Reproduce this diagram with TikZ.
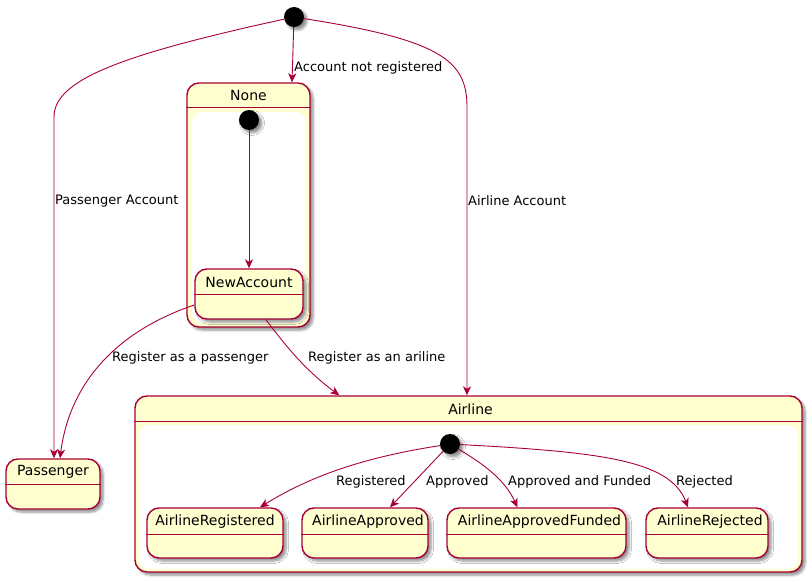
\documentclass[tikz,border=0pt]{standalone}
\usepackage{fontspec}
\setmainfont{DejaVu Sans}
\usetikzlibrary{arrows.meta,shadows.blur,calc}
\definecolor{stfill}{HTML}{FEFECE}
\definecolor{stline}{HTML}{A80036}
\tikzset{
  shad/.style={blur shadow={shadow xshift=3pt, shadow yshift=-3pt, shadow blur radius=2.5pt, shadow blur steps=6, shadow opacity=45}},
  stbox/.style={draw=stline, line width=1.4pt, fill=stfill, rounded corners=12pt, inner sep=0pt, shad},
  innerwhite/.style={fill=white, draw=none, rounded corners=10pt},
  sepline/.style={draw=stline, line width=1.2pt},
  stname/.style={font=\fontsize{14}{16}\selectfont, inner sep=0pt, anchor=center},
  lbl/.style={font=\fontsize{13}{15}\selectfont, inner sep=0pt, anchor=west},
  initst/.style={circle, fill=black, minimum size=20pt, inner sep=0pt, shad},
  trans/.style={draw=stline, line width=0.9pt, -{Stealth[length=9pt,width=8pt,inset=2.5pt]}},
}
\begin{document}
\begin{tikzpicture}[x=1pt,y=-1pt]
\useasboundingbox (0,0) rectangle (812,583);

% ---------- composite None ----------
\node[stbox, minimum width=123, minimum height=244] (none) at (248.5,205) {};
\fill[innerwhite] (192,112) rectangle (306,323);
\draw[sepline] ($(none.north west)+(0,25)$) -- ($(none.north east)+(0,25)$);
\node[stname] (nonename) at ($(none.north)+(0,13)$) {None};

% ---------- composite Airline ----------
\node[stbox, minimum width=667, minimum height=176] (airline) at (468.5,484) {};
\fill[innerwhite] (139,425) rectangle (798,569);
\draw[sepline] ($(airline.north west)+(0,26)$) -- ($(airline.north east)+(0,26)$);
\node[stname] (airlinename) at ($(airline.north)+(2,14)$) {Airline};

% ---------- simple states ----------
\node[stbox, minimum width=108, minimum height=50] (newacc) at (249,294) {};
\draw[sepline] ($(newacc.north west)+(0,26)$) -- ($(newacc.north east)+(0,26)$);
\node[stname] (newaccname) at ($(newacc.north)+(0,14)$) {NewAccount};

\node[stbox, minimum width=94, minimum height=50] (passenger) at (53,484) {};
\draw[sepline] ($(passenger.north west)+(0,26)$) -- ($(passenger.north east)+(0,26)$);
\node[stname] (passengername) at ($(passenger.north)+(0,14)$) {Passenger};

\node[stbox, minimum width=136, minimum height=50] (areg) at (215,533) {};
\draw[sepline] ($(areg.north west)+(0,27)$) -- ($(areg.north east)+(0,27)$);
\node[stname] (aregname) at ($(areg.north)+(0,14)$) {AirlineRegistered};

\node[stbox, minimum width=126, minimum height=50] (aapp) at (365,533) {};
\draw[sepline] ($(aapp.north west)+(0,27)$) -- ($(aapp.north east)+(0,27)$);
\node[stname] (aappname) at ($(aapp.north)+(3,14)$) {AirlineApproved};

\node[stbox, minimum width=179, minimum height=50] (afund) at (536.5,533) {};
\draw[sepline] ($(afund.north west)+(0,27)$) -- ($(afund.north east)+(0,27)$);
\node[stname] (afundname) at ($(afund.north)+(3,14)$) {AirlineApprovedFunded};

\node[stbox, minimum width=122, minimum height=50] (arej) at (707,533) {};
\draw[sepline] ($(arej.north west)+(0,27)$) -- ($(arej.north east)+(0,27)$);
\node[stname] (arejname) at ($(arej.north)+(3,14)$) {AirlineRejected};

% ---------- initial states ----------
\node[initst] (init0) at (294,17) {};
\node[initst] (init1) at (249,120) {};
\node[initst] (init2) at (450,444) {};

% ---------- transitions ----------
\coordinate (pbend) at (54,117);
\coordinate (abend) at (467,107);

\draw[trans] (init0) .. controls (120,55) and (54,80) .. (pbend) -- (pbend |- passenger.north);
\draw[trans] (init0) -- ($(none.north)+(43.5,0)$);
\draw[trans] (init0) .. controls (440,40) and (467,60) .. (abend) -- (abend |- airline.north);
\draw[trans] (init1) -- (newacc);
\draw[trans] ($(newacc.west)+(0,11)$) .. controls (120,330) and (70,380) .. ($(passenger.north)+(7,0)$);
\draw[trans] ($(newacc.south)+(17,0)$) .. controls (285,345) and (305,370) .. ($(airline.north west)+(205,0)$);
\draw[trans] (init2) .. controls (380,455) and (320,470) .. ($(areg.north)+(45,0)$);
\draw[trans] (init2) -- ($(aapp.north)+(25,0)$);
\draw[trans] (init2) .. controls (485,465) and (505,480) .. ($(afund.north)+(-19,0)$);
\draw[trans] (init2) .. controls (600,452) and (670,460) .. ($(arej.north)+(-19,0)$);

% ---------- labels ----------
\node[lbl] (l1) at (294,68) {Account not registered};
\node[lbl] (l2) at (55,201) {Passenger Account};
\node[lbl] (l3) at (468,201) {Airline Account};
\node[lbl] (l4) at (112,358) {Register as a passenger};
\node[lbl] (l5) at (308,358) {Register as an ariline};
\node[lbl] (l6) at (336,482) {Registered};
\node[lbl] (l7) at (426,482) {Approved};
\node[lbl] (l8) at (508,482) {Approved and Funded};
\node[lbl] (l9) at (676,482) {Rejected};
\end{tikzpicture}
\end{document}
